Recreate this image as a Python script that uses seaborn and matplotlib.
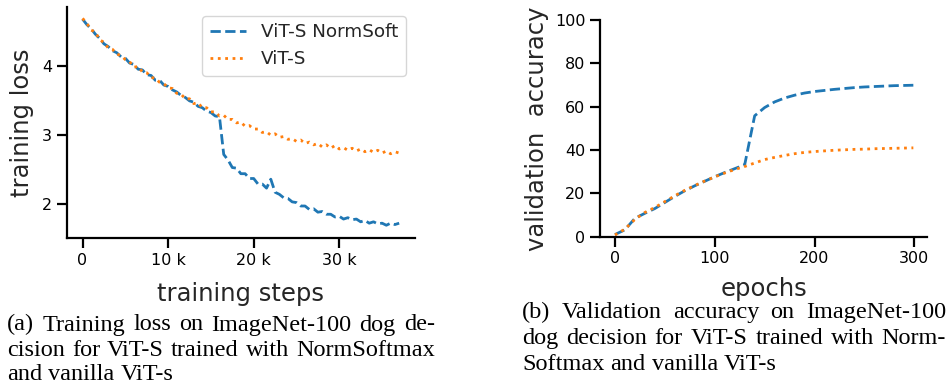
import numpy as np
import pandas as pd
import matplotlib
matplotlib.use("Agg")
import matplotlib.pyplot as plt
import seaborn as sns
from matplotlib.ticker import EngFormatter

# ---------------- data ----------------
series_names = ["ViT-S NormSoft", "ViT-S"]

train_steps = np.arange(0, 37001, 500)
loss_normsoft = [
    4.69, 4.61, 4.55, 4.47, 4.41, 4.33, 4.29, 4.23, 4.20, 4.14,
    4.12, 4.05, 4.03, 3.96, 3.95, 3.88, 3.87, 3.80, 3.80, 3.73,
    3.71, 3.66, 3.63, 3.58, 3.55, 3.50, 3.48, 3.42, 3.40, 3.35,
    3.33, 3.28, 3.27, 2.72, 2.64, 2.53, 2.52, 2.44, 2.44, 2.37,
    2.37, 2.29, 2.29, 2.23, 2.36, 2.17, 2.14, 2.09, 2.08, 2.03,
    2.02, 1.97, 1.97, 1.92, 1.93, 1.88, 1.89, 1.85, 1.85, 1.81,
    1.82, 1.78, 1.80, 1.77, 1.78, 1.74, 1.76, 1.72, 1.74, 1.71,
    1.72, 1.69, 1.72, 1.70, 1.72,
]
loss_vit = [
    4.70, 4.63, 4.53, 4.50, 4.39, 4.35, 4.27, 4.25, 4.18, 4.16,
    4.10, 4.07, 3.99, 4.00, 3.92, 3.91, 3.84, 3.83, 3.77, 3.75,
    3.69, 3.68, 3.61, 3.60, 3.53, 3.53, 3.46, 3.47, 3.40, 3.40,
    3.34, 3.34, 3.28, 3.29, 3.23, 3.23, 3.18, 3.19, 3.13, 3.14,
    3.09, 3.09, 3.04, 3.05, 3.00, 3.02, 2.97, 2.98, 2.94, 2.95,
    2.91, 2.93, 2.88, 2.90, 2.86, 2.88, 2.83, 2.86, 2.81, 2.85,
    2.80, 2.82, 2.78, 2.81, 2.77, 2.80, 2.76, 2.79, 2.75, 2.78,
    2.74, 2.77, 2.73, 2.76, 2.74,
]

epochs = [0, 10, 20, 30, 40, 50, 60, 70, 80, 90, 100, 110, 120, 130, 140,
          150, 160, 170, 180, 190, 200, 210, 220, 230, 240, 250, 260, 270,
          280, 290, 299]
acc_normsoft = [1.0, 3.2, 8.5, 10.8, 13.0, 15.8, 18.6, 21.2, 23.5, 25.6,
                27.7, 29.6, 31.4, 33.2, 55.8, 59.6, 62.2, 64.0, 65.3, 66.3,
                67.0, 67.5, 68.0, 68.4, 68.8, 69.1, 69.3, 69.5, 69.7, 69.8,
                69.9]
acc_vit = [0.8, 3.5, 8.0, 11.2, 13.5, 16.2, 18.9, 21.4, 23.6, 25.7,
           27.6, 29.4, 31.0, 32.4, 34.0, 35.6, 36.6, 37.5, 38.3, 38.9,
           39.3, 39.6, 39.9, 40.1, 40.3, 40.4, 40.6, 40.7, 40.8, 40.9,
           41.0]

caption_a = ["(a) Training loss on ImageNet-100 dog de-",
             "cision for ViT-S trained with NormSoftmax",
             "and vanilla ViT-s"]
caption_b = ["(b) Validation accuracy on ImageNet-100",
             "dog decision for ViT-S trained with Norm-",
             "Softmax and vanilla ViT-s"]

# ---------------- style ----------------
sns.set_theme(style="ticks")
plt.rcParams["font.family"] = ["DejaVu Sans"]
plt.rcParams.update({
    "axes.linewidth": 1.6,
    "xtick.major.width": 1.6,
    "ytick.major.width": 1.6,
    "xtick.major.size": 7,
    "ytick.major.size": 7,
    "xtick.labelsize": 11.5,
    "ytick.labelsize": 11.5,
    "axes.labelsize": 17.5,
    "axes.edgecolor": "black",
    "xtick.color": "black",
    "ytick.color": "black",
})

blue, orange = "#1f77b4", "#ff7f0e"

fig = plt.figure(figsize=(9.48, 3.85), dpi=100)
W, H = 948, 385

def ax_rect(x0, y0, x1, y1):
    return [x0 / W, 1 - y1 / H, (x1 - x0) / W, (y1 - y0) / H]

ax1 = fig.add_axes(ax_rect(66.7, 6.7, 415, 238.3))
ax2 = fig.add_axes(ax_rect(600, 20, 927.3, 236.7))

df_loss = pd.DataFrame({"step": np.concatenate([train_steps, train_steps]),
                        "loss": loss_normsoft + loss_vit,
                        "model": [series_names[0]] * len(train_steps) + [series_names[1]] * len(train_steps)})
df_acc = pd.DataFrame({"epoch": epochs + epochs,
                       "acc": acc_normsoft + acc_vit,
                       "model": [series_names[0]] * len(epochs) + [series_names[1]] * len(epochs)})

sns.lineplot(data=df_loss, x="step", y="loss", hue="model", style="model",
             palette=[blue, orange], dashes=[(3.7, 1.6), (1, 1.65)],
             linewidth=2, ax=ax1)
sns.lineplot(data=df_acc, x="epoch", y="acc", hue="model", style="model",
             palette=[blue, orange], dashes=[(3.7, 1.6), (1, 1.65)],
             linewidth=2, ax=ax2, legend=False)

# left axes
ax1.set_xlabel("training steps", labelpad=10)
ax1.set_ylabel("training loss", labelpad=6)
ax1.xaxis.set_major_formatter(EngFormatter())
ax1.set_xticks([0, 10000, 20000, 30000])
ax1.set_yticks([2, 3, 4])
ax1.set_xlim(-1850, 38850)
ax1.set_ylim(1.5, 4.87)
leg = ax1.legend(loc="upper right", fontsize=13.2, frameon=True, handlelength=2.0)
leg.get_frame().set_edgecolor("#cccccc")
leg.get_frame().set_linewidth(1.0)

# right axes
ax2.set_xlabel("epochs", labelpad=8)
ax2.set_ylabel("validation  accuracy")
ax2.set_xticks([0, 100, 200, 300])
ax2.set_yticks([0, 20, 40, 60, 80, 100])
ax2.set_xlim(-15, 313)
ax2.set_ylim(0, 100)

for ax in (ax1, ax2):
    sns.despine(ax=ax)

# ---------------- captions (justified serif text) ----------------
renderer = fig.canvas.get_renderer()
cap_size = 17.5
cap_font = "Liberation Serif"

def place_line(words_line, x0, x1, baseline, justify):
    words = words_line.split(" ")
    objs = [fig.text(0, 1 - baseline / H, w, fontsize=cap_size, family=cap_font,
                     va="baseline", ha="left", color="black") for w in words]
    widths = [o.get_window_extent(renderer).width for o in objs]
    if justify and len(words) > 1:
        gap = (x1 - x0 - sum(widths)) / (len(words) - 1)
    else:
        gap = 0.25 * cap_size * 100 / 72
    x = x0
    for o, w in zip(objs, widths):
        o.set_x(x / W)
        x += w + gap

for i, (line, base) in enumerate(zip(caption_a, [330.5, 355.5, 379.5])):
    place_line(line, 7, 435, base, justify=(i < 2))
for i, (line, base) in enumerate(zip(caption_b, [318.3, 344.3, 370.3])):
    place_line(line, 522, 946, base, justify=(i < 2))

fig.savefig("out.png", dpi=100)
